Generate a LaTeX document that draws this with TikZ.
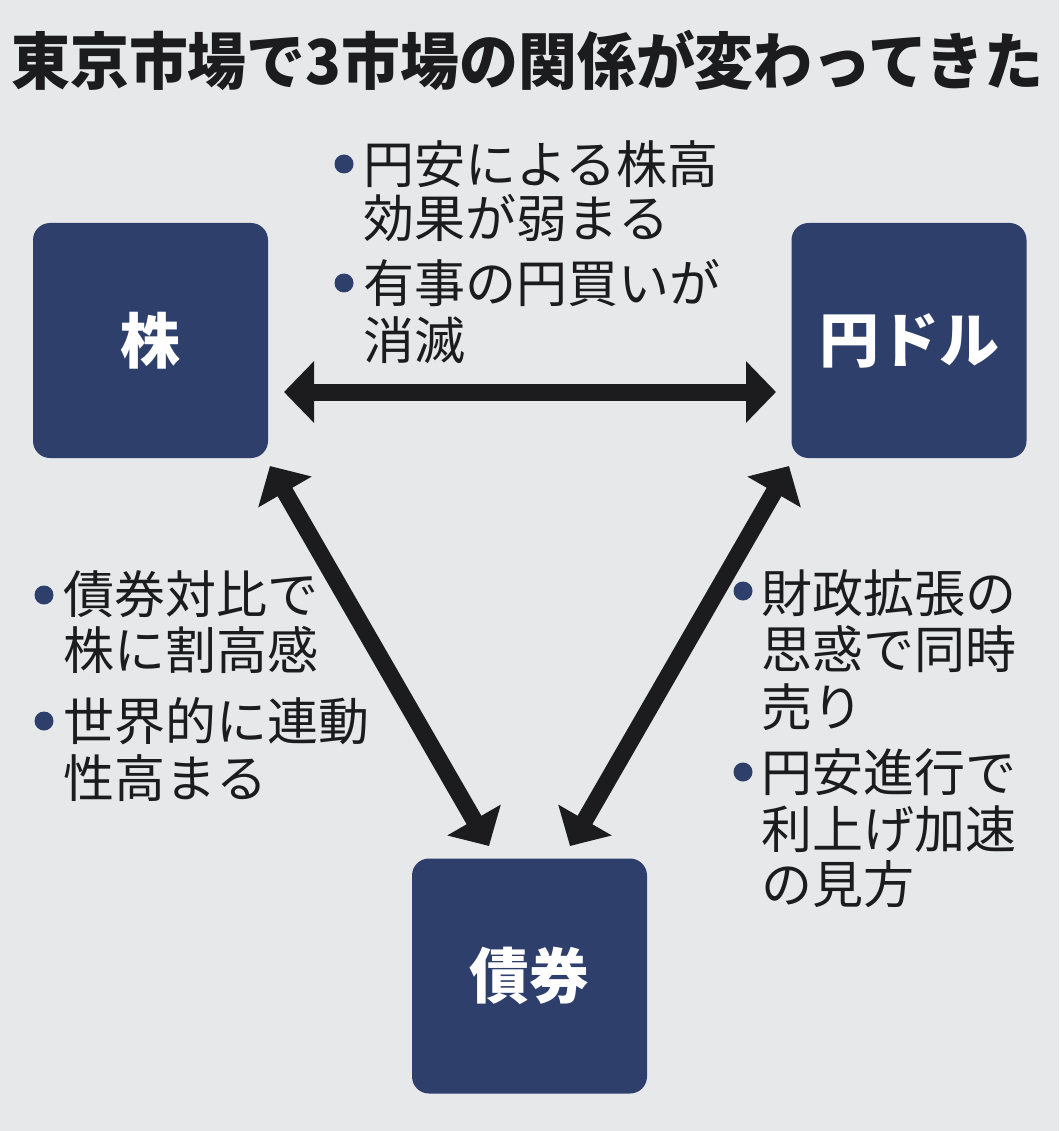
\documentclass[tikz,border=0pt]{standalone}
\usepackage{fontspec}
\newfontfamily\jp{Noto Sans CJK JP}
\usetikzlibrary{arrows.meta}
\definecolor{bg}{HTML}{E7E8EA}
\definecolor{navy}{HTML}{2E3F6C}
\definecolor{ink}{HTML}{1C1C1E}
\tikzset{
  market/.style={fill=navy, rounded corners=17pt, minimum width=235pt, minimum height=235pt,
    inner sep=0pt, text=white, font=\jp\bfseries\fontsize{60}{66}\selectfont},
  note/.style={anchor=west, inner sep=0pt, text=ink, text height=45pt, text depth=6pt,
    font=\jp\fontsize{51}{57}\selectfont},
  bullet/.style={circle, fill=navy, inner sep=0pt, minimum size=19pt},
  link/.style={draw=ink, line width=17pt,
    {Triangle[length=30pt,width=60pt]}-{Triangle[length=30pt,width=60pt]}}
}
\begin{document}
\begin{tikzpicture}[x=1pt,y=-1pt]
\fill[bg] (0,0) rectangle (1059,1131);
\useasboundingbox (0,0) rectangle (1059,1131);

% title
\node[anchor=west, inner sep=0pt, text=ink, text height=55pt, text depth=7pt] (title) at (11,61)
  {\scalebox{0.95}[1]{\jp\bfseries\fontsize{62}{68}\selectfont 東京市場で3市場の関係が変わってきた}};

% market boxes
\node[market] (kabu) at (150.5,340.5) {株};
\node[market] (endoru) at (909,340.5) {円ドル};
\node[market] (saiken) at (529.5,976) {債券};

% connector ends
\coordinate (h1) at (284,392);
\coordinate (h2) at (776,392);
\coordinate (l1) at (270,466);
\coordinate (l2) at (489,846);
\coordinate (r1) at (789,466);
\coordinate (r2) at (570,846);

\draw[link] (h1) -- (h2);
\draw[link] (l1) -- (l2);
\draw[link] (r1) -- (r2);

% top notes
\node[bullet] (tb1) at (344,164) {};
\node[note] (t1) at (363,164) {円安による株高};
\node[note] (t2) at (363,218) {効果が弱まる};
\node[bullet] (tb2) at (344,283) {};
\node[note] (t3) at (363,283) {有事の円買いが};
\node[note] (t4) at (363,340) {消滅};

% left notes
\node[bullet] (lb1) at (44,595) {};
\node[note] (n1) at (63,594) {債券対比で};
\node[note] (n2) at (63,650) {株に割高感};
\node[bullet] (lb2) at (44,721) {};
\node[note] (n3) at (63,721) {世界的に連動};
\node[note] (n4) at (63,778) {性高まる};

% right notes
\node[bullet] (rb1) at (743,591) {};
\node[note] (m1) at (761,593) {財政拡張の};
\node[note] (m2) at (761,649) {思惑で同時};
\node[note] (m3) at (761,707) {売り};
\node[bullet] (rb2) at (743,772) {};
\node[note] (m4) at (761,772) {円安進行で};
\node[note] (m5) at (761,829) {利上げ加速};
\node[note] (m6) at (761,884) {の見方};
\end{tikzpicture}
\end{document}
